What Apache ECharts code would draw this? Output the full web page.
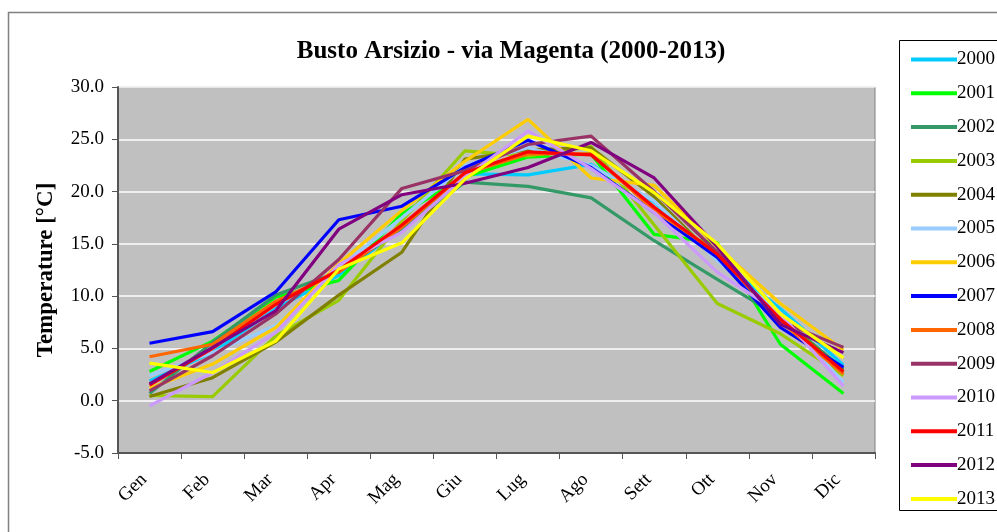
<!DOCTYPE html>
<html>
<head>
<meta charset="utf-8">
<script src="https://cdn.jsdelivr.net/npm/echarts@6/dist/echarts.min.js"></script>
<style>
  html, body { margin: 0; padding: 0; background: #ffffff; }
  #chart { width: 997px; height: 532px; }
</style>
</head>
<body>
<div id="chart"></div>
<script>
// Monthly mean temperatures, Busto Arsizio - via Magenta station
const months = ['Gen', 'Feb', 'Mar', 'Apr', 'Mag', 'Giu', 'Lug', 'Ago', 'Sett', 'Ott', 'Nov', 'Dic'];
const yTicks = [-5, 0, 5, 10, 15, 20, 25, 30];

const t2000 = [1.9, 4.6, 8.8, 12.0, 16.5, 21.7, 21.6, 22.6, 19.0, 13.6, 8.8, 3.4];
const t2001 = [2.8, 5.7, 9.9, 11.5, 17.9, 21.4, 23.3, 23.6, 15.9, 15.1, 5.4, 0.7];
const t2002 = [0.7, 5.6, 10.1, 12.3, 16.5, 20.9, 20.5, 19.4, 15.3, 11.6, 8.0, 3.0];
const t2003 = [0.5, 0.4, 6.2, 9.6, 17.2, 23.9, 23.4, 24.3, 16.8, 9.3, 6.4, 2.4];
const t2004 = [0.4, 2.2, 5.6, 10.1, 14.2, 23.1, 24.0, 24.2, 19.5, 13.5, 8.0, 2.8];
const t2005 = [2.4, 4.6, 7.2, 12.7, 17.5, 22.5, 24.2, 22.5, 19.1, 13.4, 8.3, 1.75];
const t2006 = [1.2, 3.5, 7.0, 13.1, 18.2, 22.9, 26.9, 21.3, 20.6, 14.7, 9.3, 4.85];
const t2007 = [5.5, 6.6, 10.4, 17.3, 18.6, 22.3, 24.9, 22.3, 18.0, 13.7, 7.0, 3.2];
const t2008 = [4.2, 5.4, 9.5, 12.3, 16.6, 21.7, 23.6, 23.6, 18.2, 14.2, 7.6, 2.55];
const t2009 = [0.95, 4.3, 8.3, 13.5, 20.3, 22.0, 24.5, 25.3, 20.0, 14.2, 7.6, 5.1];
const t2010 = [-0.5, 2.7, 6.5, 13.0, 16.1, 21.4, 25.8, 22.2, 18.0, 12.3, 8.3, 1.4];
const t2011 = [1.5, 5.0, 9.2, 12.5, 16.8, 21.8, 23.8, 23.5, 18.5, 14.0, 7.8, 2.8];
const t2012 = [1.6, 5.1, 8.6, 16.4, 19.7, 20.8, 22.3, 24.7, 21.3, 14.7, 7.3, 4.6];
const t2013 = [3.6, 2.7, 5.7, 12.6, 15.1, 21.2, 25.3, 23.9, 19.9, 15.0, 8.3, 4.1];

const years = ['2000', '2001', '2002', '2003', '2004', '2005', '2006',
               '2007', '2008', '2009', '2010', '2011', '2012', '2013'];
const yearData = [t2000, t2001, t2002, t2003, t2004, t2005, t2006,
                  t2007, t2008, t2009, t2010, t2011, t2012, t2013];
const yearColors = ['#00CCFF', '#00FF00', '#339966', '#99CC00', '#808000', '#99CCFF', '#FFCC00',
                    '#0000FF', '#FF6600', '#993366', '#CC99FF', '#FF0000', '#800080', '#FFFF00'];

const serif = '"Liberation Serif", "DejaVu Serif", serif';

const chart = echarts.init(document.getElementById('chart'), null, { renderer: 'canvas' });

chart.setOption({
  animation: false,
  backgroundColor: '#ffffff',
  color: yearColors,
  title: {
    text: 'Busto Arsizio - via Magenta (2000-2013)',
    left: 506,
    textAlign: 'center',
    top: 34,
    textStyle: { fontFamily: serif, fontSize: 25, fontWeight: 'bold', color: '#000' }
  },
  legend: {
    orient: 'vertical',
    left: 906,
    top: 45,
    icon: 'rect',
    itemWidth: 46,
    itemHeight: 4,
    itemGap: 14.8,
    data: years,
    textStyle: { fontFamily: serif, fontSize: 19, color: '#000', lineHeight: 16, padding: [0, 0, 0, -5] }
  },
  grid: {
    left: 118,
    top: 87,
    width: 757,
    height: 366,
    show: true,
    backgroundColor: '#C0C0C0',
    borderColor: '#808080',
    borderWidth: 1
  },
  xAxis: {
    type: 'category',
    data: months,
    boundaryGap: true,
    axisLine: { show: true, onZero: false, lineStyle: { color: '#555', width: 2 } },
    axisTick: { show: true, interval: 0, length: 6, lineStyle: { color: '#555' } },
    axisLabel: {
      interval: 0,
      rotate: 45,
      margin: 18,
      fontFamily: serif,
      fontSize: 19,
      color: '#000',
      padding: [0, 8, 0, 0]
    },
    splitLine: { show: false }
  },
  yAxis: {
    type: 'value',
    min: yTicks[0],
    max: yTicks[yTicks.length - 1],
    interval: 5,
    name: 'Temperature [°C]',
    nameLocation: 'middle',
    nameGap: 60,
    nameRotate: 90,
    nameTextStyle: { fontFamily: serif, fontSize: 23, fontWeight: 'bold', color: '#000' },
    axisLine: { show: true, lineStyle: { color: '#555', width: 2 } },
    axisTick: { show: true, inside: false, length: 6, lineStyle: { color: '#555' } },
    axisLabel: {
      margin: 14,
      fontFamily: serif,
      fontSize: 19,
      color: '#000',
      formatter: v => v.toFixed(1)
    },
    splitLine: { show: true, lineStyle: { color: '#ffffff', width: 1.5 } }
  },
  series: years.map((y, i) => ({
    name: y,
    type: 'line',
    data: yearData[i],
    symbol: 'none',
    lineStyle: { width: 3.2, color: yearColors[i] },
    itemStyle: { color: yearColors[i] },
    z: 2 + i
  })),
  graphic: [
    {
      type: 'rect',
      shape: { x: 8.5, y: 12.5, width: 1100, height: 700 },
      style: { fill: 'none', stroke: '#808080', lineWidth: 1.5 },
      silent: true,
      z: -1
    },
    {
      type: 'rect',
      shape: { x: 899.5, y: 40.5, width: 200, height: 470 },
      style: { fill: '#ffffff', stroke: '#000000', lineWidth: 1 },
      silent: true,
      z: 0
    }
  ]
});
</script>
</body>
</html>
